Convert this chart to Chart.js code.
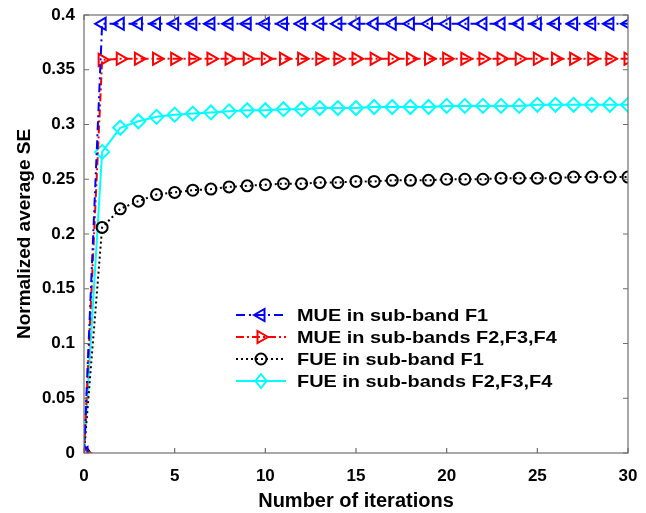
<!DOCTYPE html>
<html>
<head>
<meta charset="utf-8">
<script src="https://cdn.jsdelivr.net/npm/chart.js@4/dist/chart.umd.min.js"></script>
<style>
  html, body { margin: 0; padding: 0; background: #fff; }
  canvas { display: block; }
</style>
</head>
<body>
<canvas id="c" width="646" height="513"></canvas>
<script>
// iterations on x, normalized average SE on y
const iterations = [0, 1, 2, 3, 4, 5, 6, 7, 8, 9, 10, 11, 12, 13, 14, 15, 16, 17, 18, 19, 20, 21, 22, 23, 24, 25, 26, 27, 28, 29, 30];
const mueF1 = [0, 0.392, 0.392, 0.392, 0.392, 0.392, 0.392, 0.392, 0.392, 0.392, 0.392, 0.392, 0.392, 0.392, 0.392, 0.392, 0.392, 0.392, 0.392, 0.392, 0.392, 0.392, 0.392, 0.392, 0.392, 0.392, 0.392, 0.392, 0.392, 0.392, 0.392];
const mueF234 = [0, 0.359, 0.36, 0.36, 0.36, 0.36, 0.36, 0.36, 0.36, 0.36, 0.36, 0.36, 0.36, 0.36, 0.36, 0.36, 0.36, 0.36, 0.36, 0.36, 0.36, 0.36, 0.36, 0.36, 0.36, 0.36, 0.36, 0.36, 0.36, 0.36, 0.36];
const fueF1 = [0, 0.206, 0.223, 0.230, 0.236, 0.238, 0.240, 0.241, 0.243, 0.244, 0.245, 0.246, 0.246, 0.247, 0.247, 0.248, 0.248, 0.249, 0.249, 0.249, 0.250, 0.250, 0.250, 0.251, 0.251, 0.251, 0.251, 0.252, 0.252, 0.252, 0.252];
const fueF234 = [0, 0.275, 0.297, 0.303, 0.307, 0.309, 0.310, 0.311, 0.312, 0.313, 0.313, 0.314, 0.314, 0.315, 0.315, 0.315, 0.316, 0.316, 0.316, 0.316, 0.317, 0.317, 0.317, 0.317, 0.317, 0.318, 0.318, 0.318, 0.318, 0.318, 0.318];
const seriesNames = ['MUE in sub-band F1', 'MUE in sub-bands F2,F3,F4', 'FUE in sub-band F1', 'FUE in sub-bands F2,F3,F4'];
const xTicks = [0, 5, 10, 15, 20, 25, 30];
const yTicks = [0, 0.05, 0.1, 0.15, 0.2, 0.25, 0.3, 0.35, 0.4];

const FONT = 'Arial, "Liberation Sans", sans-serif';
const pts = arr => iterations.map((x, i) => ({ x: x, y: arr[i] }));

function mkSet(label, arr, color, dash, style, rot, r) {
  return {
    label: label, data: pts(arr),
    borderColor: color, borderWidth: 2, borderDash: dash,
    pointStyle: style, pointRotation: rot, pointRadius: r,
    pointBorderColor: color, pointBackgroundColor: 'rgba(255,255,255,0)', pointBorderWidth: 2,
    tension: 0, fill: false
  };
}

// box, inward ticks and the in-plot legend (MATLAB look)
const matlabFrame = {
  id: 'matlabFrame',
  afterDatasetsDraw(chart) {
    const ctx = chart.ctx, a = chart.chartArea;
    const xs = chart.scales.x, ys = chart.scales.y;
    ctx.save();
    ctx.strokeStyle = '#6f6f6f';
    ctx.lineWidth = 1.2;
    ctx.setLineDash([]);
    ctx.strokeRect(a.left, a.top, a.right - a.left, a.bottom - a.top);
    ctx.beginPath();
    xTicks.forEach(v => {
      const px = xs.getPixelForValue(v);
      ctx.moveTo(px, a.bottom); ctx.lineTo(px, a.bottom - 5);
      ctx.moveTo(px, a.top); ctx.lineTo(px, a.top + 5);
    });
    yTicks.forEach(v => {
      const py = ys.getPixelForValue(v);
      ctx.moveTo(a.left, py); ctx.lineTo(a.left + 5, py);
      ctx.moveTo(a.right, py); ctx.lineTo(a.right - 5, py);
    });
    ctx.stroke();

    // legend
    const lx = a.left + 152, ly = a.top + 300, dy = 22;
    chart.data.datasets.forEach((ds, i) => {
      const y = ly + i * dy;
      ctx.strokeStyle = ds.borderColor;
      ctx.lineWidth = 2;
      ctx.setLineDash(ds.borderDash);
      ctx.beginPath();
      ctx.moveTo(lx, y); ctx.lineTo(lx + 50, y);
      ctx.stroke();
      ctx.setLineDash([]);
      const cx = lx + 25, r = ds.pointRadius;
      ctx.beginPath();
      if (ds.pointStyle === 'circle') {
        ctx.arc(cx, y, r, 0, Math.PI * 2);
      } else if (ds.pointStyle === 'rectRot') {
        ctx.moveTo(cx, y - r); ctx.lineTo(cx + r * 0.8, y); ctx.lineTo(cx, y + r); ctx.lineTo(cx - r * 0.8, y); ctx.closePath();
      } else {
        const dir = ds.pointRotation > 0 ? 1 : -1;
        ctx.moveTo(cx + dir * r, y);
        ctx.lineTo(cx - dir * r * 0.5, y - r * 0.866);
        ctx.lineTo(cx - dir * r * 0.5, y + r * 0.866);
        ctx.closePath();
      }
      ctx.stroke();
      // reference text is a bit wide for its height, so stretch it
      ctx.save();
      ctx.translate(lx + 61, y + 1);
      ctx.scale(1.17, 1);
      ctx.fillStyle = '#000';
      ctx.font = 'bold 17px ' + FONT;
      ctx.textBaseline = 'middle';
      ctx.textAlign = 'left';
      ctx.fillText(ds.label, 0, 0);
      ctx.restore();
    });
    ctx.restore();
  }
};

new Chart(document.getElementById('c'), {
  type: 'line',
  data: {
    datasets: [
      mkSet(seriesNames[0], mueF1, '#0000ff', [9, 4, 2, 4], 'triangle', -90, 7),
      mkSet(seriesNames[1], mueF234, '#ff0000', [8, 3, 2, 3], 'triangle', 90, 7),
      mkSet(seriesNames[2], fueF1, '#000000', [2, 3], 'circle', 0, 5.5),
      mkSet(seriesNames[3], fueF234, '#00ffff', [], 'rectRot', 0, 7)
    ]
  },
  options: {
    responsive: false,
    animation: false,
    devicePixelRatio: 1,
    layout: { padding: { left: 0, top: 15, right: 18, bottom: 0 } },
    plugins: { legend: { display: false }, tooltip: { enabled: false } },
    scales: {
      x: {
        type: 'linear', min: 0, max: 30,
        afterFit: s => { s.height = 60; s.paddingLeft = 0; s.paddingRight = 0; },
        afterBuildTicks: s => { s.ticks = xTicks.map(v => ({ value: v })); },
        grid: { display: false, drawTicks: false }, border: { display: false },
        ticks: { padding: 13, color: '#000', font: { family: FONT, size: 17, weight: 'bold' }, maxRotation: 0 },
        title: { display: true, text: 'Number of iterations', color: '#000', padding: { top: 0, bottom: 0 }, font: { family: FONT, size: 20, weight: 'bold' } }
      },
      y: {
        min: 0, max: 0.4,
        afterFit: s => { s.width = 84; s.paddingTop = 0; s.paddingBottom = 0; },
        afterBuildTicks: s => { s.ticks = yTicks.map(v => ({ value: v })); },
        grid: { display: false, drawTicks: false }, border: { display: false },
        ticks: { padding: 9, color: '#000', font: { family: FONT, size: 17, weight: 'bold' }, callback: v => String(Number(v.toFixed(2))) },
        title: { display: true, text: 'Normalized average SE', color: '#000', padding: { top: 13, bottom: 0 }, font: { family: FONT, size: 19, weight: 'bold' } }
      }
    }
  },
  plugins: [matlabFrame]
});
</script>
</body>
</html>
